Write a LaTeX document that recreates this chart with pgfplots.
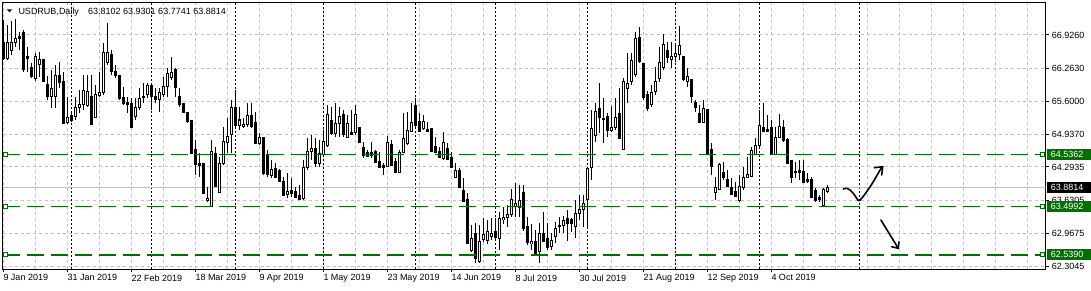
\documentclass[border=0pt]{standalone}
\usepackage{pgfplots}
\pgfplotsset{compat=1.18}
\usepackage{pgfplotstable}
\usepackage{fontspec}
\setmainfont{Liberation Sans}
\definecolor{mtgreen}{RGB}{0,112,0}
\definecolor{gridgray}{RGB}{192,192,192}

\pgfplotstableread{
x O H L C
0 66.77 67.23 66.43 66.45
1 66.45 67.13 66.43 66.77
2 66.61 67.21 66.53 66.77
3 66.77 67.25 66.69 66.85
4 66.89 66.99 66.63 66.85
5 66.97 67.03 66.19 66.23
6 66.49 66.69 66.19 66.45
7 66.27 66.37 66.07 66.09
8 66.05 66.57 66.01 66.49
9 66.33 66.59 66.09 66.43
10 66.43 66.45 65.98 65.99
11 65.93 66.11 65.63 65.69
12 65.69 66.23 65.47 65.85
13 65.69 66.33 65.47 66.11
14 66.11 66.39 65.87 65.97
15 65.99 66.19 65.16 65.17
16 65.19 65.69 65.15 65.29
17 65.31 65.37 65.19 65.23
18 65.29 65.69 65.23 65.47
19 65.47 65.83 65.37 65.53
20 65.53 66.13 65.43 65.81
21 65.53 66.13 65.49 65.79
22 65.69 66.13 65.13 65.15
23 65.29 65.93 65.27 65.73
24 65.71 66.19 65.69 65.77
25 65.77 66.77 65.73 66.57
26 66.37 67.17 66.33 66.57
27 66.53 66.63 66.13 66.19
28 66.19 66.33 66.07 66.11
29 66.11 66.11 65.63 65.65
30 65.67 65.89 65.53 65.55
31 65.59 65.69 65.37 65.55
32 65.55 65.67 65.09 65.09
33 65.29 65.67 65.23 65.47
34 65.47 65.87 65.43 65.65
35 65.67 65.97 65.57 65.69
36 65.73 65.97 65.67 65.91
37 65.91 65.93 65.43 65.69
38 65.69 65.87 65.57 65.63
39 65.63 65.87 65.39 65.77
40 65.73 66.09 65.69 65.89
41 65.89 66.27 65.69 66.15
42 66.07 66.49 66.03 66.17
43 66.23 66.27 65.69 65.87
44 65.69 65.87 65.49 65.53
45 65.57 65.57 65.37 65.39
46 65.37 65.39 65.17 65.21
47 65.23 65.23 64.57 64.57
48 64.65 64.83 64.13 64.35
49 64.37 64.57 64.09 64.33
50 64.37 64.37 63.77 63.77
51 63.63 63.89 63.59 63.67
52 63.51 64.83 63.49 64.61
53 64.57 64.69 63.89 63.91
54 63.79 64.49 63.77 64.37
55 64.37 65.09 64.33 64.81
56 64.79 65.27 64.57 64.91
57 64.95 65.63 64.57 65.49
58 65.49 65.83 65.09 65.13
59 65.13 65.49 65.03 65.23
60 65.11 65.27 65.07 65.15
61 65.15 65.57 65.09 65.31
62 65.33 65.57 65.07 65.11
63 65.19 65.39 64.77 64.77
64 64.77 64.97 64.73 64.89
65 64.89 64.89 64.13 64.17
66 64.55 64.63 64.09 64.15
67 64.13 64.43 64.07 64.25
68 64.27 64.37 64.07 64.09
69 64.23 64.25 63.99 64.01
70 64.01 64.09 63.73 63.73
71 63.75 64.17 63.67 63.81
72 63.83 64.07 63.69 63.77
73 63.81 63.89 63.67 63.69
74 63.73 63.93 63.63 63.65
75 63.67 64.43 63.63 64.29
76 64.29 64.87 64.23 64.61
77 64.61 64.93 64.43 64.67
78 64.67 64.87 64.29 64.37
79 64.37 64.83 64.29 64.57
80 64.55 65.03 64.53 64.81
81 64.73 65.53 64.69 65.35
82 65.23 65.49 64.93 64.97
83 64.97 65.57 64.89 65.17
84 65.17 65.49 64.89 65.31
85 65.33 65.43 64.89 64.95
86 64.89 65.33 64.87 65.17
87 64.99 65.43 64.93 64.95
88 64.99 65.53 64.93 65.33
89 65.09 65.09 64.79 64.79
90 64.69 64.79 64.47 64.53
91 64.59 64.63 64.49 64.51
92 64.59 64.79 64.47 64.53
93 64.61 64.63 64.37 64.39
94 64.41 64.59 64.27 64.29
95 64.33 64.37 64.13 64.29
96 64.31 64.91 64.29 64.79
97 64.75 64.83 64.31 64.33
98 64.41 64.47 64.19 64.19
99 64.19 64.63 64.17 64.59
100 64.59 65.37 64.57 64.87
101 64.77 65.39 64.73 65.03
102 65.01 65.57 64.99 65.19
103 65.51 65.67 65.09 65.13
104 65.21 65.37 64.99 65.01
105 65.07 65.33 65.03 65.21
106 65.05 65.19 64.99 65.01
107 65.07 65.07 64.59 64.61
108 64.71 64.89 64.57 64.59
109 64.61 64.69 64.47 64.49
110 64.47 64.99 64.43 64.79
111 64.67 64.77 64.43 64.45
112 64.49 64.59 64.29 64.29
113 64.09 64.37 64.07 64.23
114 64.23 64.27 63.87 63.89
115 63.83 64.07 63.59 63.61
116 63.65 63.77 62.76 62.77
117 62.62 63.14 62.60 62.87
118 62.97 63.17 62.38 62.47
119 62.40 63.14 62.38 62.80
120 62.84 63.27 62.80 62.94
121 62.82 63.23 62.76 63.00
122 62.90 63.27 62.84 62.96
123 63.00 63.27 62.84 62.88
124 62.86 63.39 62.64 63.26
125 63.24 63.49 63.16 63.28
126 63.28 63.53 63.10 63.35
127 63.35 63.85 63.29 63.65
128 63.51 63.97 63.29 63.57
129 63.49 63.93 63.29 63.63
130 63.79 63.93 63.02 63.06
131 63.10 63.29 62.74 62.78
132 62.77 63.16 62.64 62.80
133 62.80 63.04 62.57 62.57
134 62.60 63.17 62.38 62.97
135 62.97 63.39 62.80 62.81
136 62.86 63.17 62.64 62.68
137 62.70 62.97 62.64 62.82
138 62.90 63.19 62.78 63.06
139 63.10 63.29 62.97 63.12
140 63.13 63.31 62.97 63.22
141 63.26 63.43 62.82 63.16
142 63.24 63.27 62.99 63.16
143 63.10 63.63 62.88 63.37
144 63.37 63.73 63.24 63.45
145 63.45 63.73 63.10 63.57
146 63.65 64.29 63.10 64.27
147 64.29 65.43 64.03 65.07
148 64.93 65.57 64.79 65.41
149 65.45 65.97 64.97 65.27
150 65.25 65.67 64.77 65.27
151 65.29 65.37 64.89 65.03
152 65.03 65.51 64.99 65.09
153 65.09 65.67 65.03 65.29
154 65.35 65.87 64.85 64.87
155 64.65 66.07 64.63 65.99
156 65.85 66.57 65.57 65.95
157 65.99 66.57 65.93 66.41
158 66.13 66.99 66.09 66.85
159 66.87 67.09 66.37 66.39
160 66.35 66.37 65.63 65.67
161 65.73 65.81 65.41 65.45
162 65.53 65.93 65.49 65.77
163 65.79 66.29 65.73 65.99
164 66.05 66.69 65.99 66.37
165 66.27 66.95 66.23 66.73
166 66.61 66.79 66.37 66.47
167 66.43 66.79 66.27 66.49
168 66.49 66.73 66.39 66.55
169 66.53 67.11 66.43 66.71
170 66.49 66.49 66.01 66.03
171 65.99 66.27 65.89 66.09
172 66.03 66.03 65.57 65.69
173 65.57 65.63 65.39 65.47
174 65.37 65.53 65.19 65.19
175 65.19 65.63 65.17 65.45
176 65.43 65.45 64.57 64.57
177 64.65 64.77 64.13 64.31
178 63.79 64.09 63.63 63.89
179 63.85 64.37 63.83 64.35
180 64.19 64.39 64.03 64.09
181 64.05 64.23 63.89 63.91
182 63.89 64.07 63.73 63.75
183 63.81 63.99 63.69 63.71
184 63.63 64.13 63.59 63.91
185 63.89 64.29 63.83 64.09
186 64.09 64.49 64.07 64.15
187 64.11 64.69 64.09 64.63
188 64.55 64.87 64.53 64.73
189 64.73 65.43 64.67 65.13
190 65.09 65.57 64.99 65.01
191 65.05 65.33 64.99 65.01
192 65.09 65.23 64.53 64.55
193 64.55 65.09 64.53 64.89
194 64.89 65.35 64.87 65.11
195 65.09 65.23 64.79 64.83
196 64.85 64.87 64.35 64.37
197 64.43 64.43 63.97 64.09
198 64.21 64.39 64.07 64.19
199 64.23 64.43 64.03 64.19
200 64.21 64.43 63.97 63.99
201 64.05 64.17 63.97 64.01
202 64.05 64.09 63.67 63.69
203 63.83 63.87 63.59 63.63
204 63.69 63.73 63.59 63.65
205 63.53 63.87 63.51 63.85
206 63.8102 63.9301 63.7741 63.8814
}\candles

\begin{document}
\begin{tikzpicture}
\path[use as bounding box, fill=white] (-2.7pt,-20.7pt) rectangle (1088.3pt,269.3pt);
\begin{axis}[
  scale only axis, width=1043pt, height=266.6pt,
  at={(0pt,0pt)}, anchor=south west,
  xmin=-0.15, xmax=260.6, ymin=62.2515, ymax=67.5701,
  axis line style={black, line width=1pt},
  tick align=outside, major tick length=3pt, minor tick length=0pt,
  tick style={black, line width=1pt},
  xtick={0,16,...,192},
  xticklabels={9 Jan 2019, 31 Jan 2019, 22 Feb 2019, 18 Mar 2019, 9 Apr 2019, 1 May 2019, 23 May 2019, 14 Jun 2019, 8 Jul 2019, 30 Jul 2019, 21 Aug 2019, 12 Sep 2019, 4 Oct 2019},
  minor xtick={0,8,...,256},
  xtick pos=bottom, ytick pos=right,
  ytick={62.3045,62.9675,63.6305,64.2935,64.937,65.6,66.263,66.926},
  yticklabels={62.3045,62.9675,63.6305,64.2935,64.9370,65.6000,66.2630,66.9260},
  yticklabel pos=right,
  ymajorgrids, xminorgrids,
  major grid style={gridgray, dash pattern=on 3pt off 3pt, line width=1pt},
  minor grid style={gridgray, dash pattern=on 3pt off 3pt, line width=1pt},
  ticklabel style={font=\fontsize{9}{10}\selectfont, text=black},
  xticklabel style={anchor=north west, inner sep=0pt, yshift=-2pt},
  yticklabel style={anchor=west, inner sep=0pt, xshift=3pt},
]
% month separators
\pgfplotsinvokeforeach{17,37,58,80,103,123,146,168,189,214}{
  \draw[black, line width=1pt, dash pattern=on 2pt off 2pt] (axis cs:#1,62.2515) -- (axis cs:#1,67.5701);
}
% bid line
\addplot[gridgray, line width=1pt, forget plot] coordinates {(-0.15,63.8814) (260.6,63.8814)};
% wicks
\addplot[draw=none, forget plot, error bars/.cd, y dir=both, y explicit, error mark=none,
  error bar style={draw=black, line width=1pt, solid}]
  table[x=x, y expr={(\thisrow{H}+\thisrow{L})/2}, y error expr={(\thisrow{H}-\thisrow{L})/2}] {\candles};
% black bodies
\addplot[draw=none, forget plot, restrict expr to domain={\thisrow{O}-\thisrow{C}}{-0.0001:100},
  error bars/.cd, y dir=both, y explicit, error mark=none,
  error bar style={draw=black, line width=3pt, solid}]
  table[x=x, y expr={(\thisrow{O}+\thisrow{C})/2}, y error expr={(\thisrow{O}-\thisrow{C})/2+0.01}] {\candles};
% white bodies: outline
\addplot[draw=none, forget plot, restrict expr to domain={\thisrow{C}-\thisrow{O}}{0.0001:100},
  error bars/.cd, y dir=both, y explicit, error mark=none,
  error bar style={draw=black, line width=3pt, solid}]
  table[x=x, y expr={(\thisrow{O}+\thisrow{C})/2}, y error expr={(\thisrow{C}-\thisrow{O})/2+0.01}] {\candles};
% white bodies: interior
\addplot[draw=none, forget plot, restrict expr to domain={\thisrow{C}-\thisrow{O}}{0.0001:100},
  error bars/.cd, y dir=both, y explicit, error mark=none,
  error bar style={draw=white, line width=1pt, solid}]
  table[x=x, y expr={(\thisrow{O}+\thisrow{C})/2}, y error expr={max((\thisrow{C}-\thisrow{O})/2-0.01,0)}] {\candles};
% support / resistance lines
\addplot[mtgreen, line width=1.4pt, dash pattern=on 17pt off 7pt, forget plot] coordinates {(-0.15,64.5362) (260.6,64.5362)};
\addplot[mtgreen, line width=1.4pt, dash pattern=on 17pt off 7pt, forget plot] coordinates {(-0.15,63.4992) (260.6,63.4992)};
\addplot[mtgreen, line width=1.4pt, dash pattern=on 17pt off 7pt, forget plot] coordinates {(-0.15,62.5390) (260.6,62.5390)};
\addplot[only marks, mark=square*, mark size=2pt, mark options={fill=white, draw=mtgreen, line width=1pt, solid}, forget plot]
  coordinates {(0.5,64.5362) (259.85,64.5362) (0.5,63.4992) (259.85,63.4992) (0.5,62.5390) (259.85,62.5390)};
% hand-drawn arrows
\draw[black, line width=1.6pt, line cap=round, line join=round]
  plot[smooth, tension=0.6] coordinates {(210,63.853) (210.85,63.867) (211.7,63.834) (212.5,63.768) (213.35,63.668) (213.9,63.620) (214.6,63.668) (215.85,63.800) (217.5,63.999) (219.2,64.233) (219.85,64.298)};
\draw[black, line width=1.6pt, line cap=round, line join=round] (217.75,64.278) -- (219.85,64.298) -- (219.6,64.133);
\draw[black, line width=1.6pt, line cap=round, line join=round] (219.4,63.235) -- (223.75,62.670);
\draw[black, line width=1.6pt, line cap=round, line join=round] (222.1,62.702) -- (223.75,62.670) -- (223.9,62.802);
\coordinate (gA) at (axis cs:260.6,64.5362);
\coordinate (gB) at (axis cs:260.6,63.8814);
\coordinate (gC) at (axis cs:260.6,63.4992);
\coordinate (gD) at (axis cs:260.6,62.5390);
\end{axis}
% right-side price boxes
\tikzset{pbox/.style={anchor=west, text=white, inner xsep=4pt, inner ysep=0pt, minimum height=11pt, text width=36.3pt, font=\fontsize{9}{10}\selectfont}}
\node[pbox, fill=mtgreen] at ([xshift=1pt]gA) {64.5362};
\node[pbox, fill=black] at ([xshift=1pt]gB) {63.8814};
\node[pbox, fill=mtgreen] at ([xshift=1pt]gC) {63.4992};
\node[pbox, fill=mtgreen] at ([xshift=1pt]gD) {62.5390};
% title
\fill[black] (4pt,260pt) -- (9.6pt,260pt) -- (6.8pt,257pt) -- cycle;
\node[anchor=base west, inner sep=0pt, font=\fontsize{9}{10}\selectfont] at (15.6pt,255.3pt) {USDRUB,Daily};
\node[anchor=base west, inner sep=0pt, font=\fontsize{9}{10}\selectfont] at (85.3pt,255.3pt) {63.8102 63.9301 63.7741 63.8814};
\end{tikzpicture}
\end{document}
